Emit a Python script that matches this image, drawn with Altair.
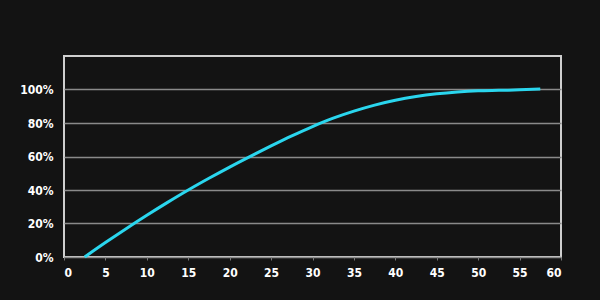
import altair as alt
import pandas as pd

x_vals = [2.5, 5, 7.5, 10, 12.5, 15, 17.5, 20, 22.5, 25, 27.5, 30, 32.5, 35,
          37.5, 40, 42.5, 45, 47.5, 50, 52.5, 55, 57.5]
y_pct = [0, 8.6, 16.9, 24.9, 32.6, 40.0, 47.0, 53.7, 60.1, 66.3, 72.3, 77.9,
         82.9, 87.1, 90.7, 93.6, 95.8, 97.4, 98.5, 99.2, 99.5, 99.8, 100.3]
x_ticks = [0, 5, 10, 15, 20, 25, 30, 35, 40, 45, 50, 55, 60]
y_ticks = [0, 0.2, 0.4, 0.6, 0.8, 1.0]

df = pd.DataFrame({"x": x_vals, "y": [v / 100 for v in y_pct]})

font = "DejaVu Sans Condensed"

chart = alt.Chart(df).mark_line(
    color="#2ad6ee", strokeWidth=3, interpolate="monotone"
).encode(
    x=alt.X("x:Q", scale=alt.Scale(domain=[0, 60], nice=False),
            axis=alt.Axis(values=x_ticks, title=None, grid=False, domain=False,
                          ticks=True, tickSize=3, tickColor="#777777",
                          labelColor="#ffffff", labelFont=font, labelFontSize=12,
                          labelFontWeight="bold", labelPadding=7)),
    y=alt.Y("y:Q", scale=alt.Scale(domain=[0, 1.2], nice=False),
            axis=alt.Axis(values=y_ticks, format=".0%", title=None, grid=True,
                          gridColor="#8a8a8a", gridWidth=1.5, domain=False,
                          ticks=False, labelColor="#ffffff", labelFont=font,
                          labelFontSize=12, labelFontWeight="bold",
                          labelPadding=11)),
).properties(
    width=497, height=201,
    background="#131313",
    padding={"left": 64, "top": 56, "right": 39, "bottom": 43},
    autosize=alt.AutoSizeParams(type="none"),
).configure_view(
    stroke="#cfcfcf", strokeWidth=2, fill="#131313"
)

chart.save("out.html", embed_options={"renderer": "svg", "actions": False})
